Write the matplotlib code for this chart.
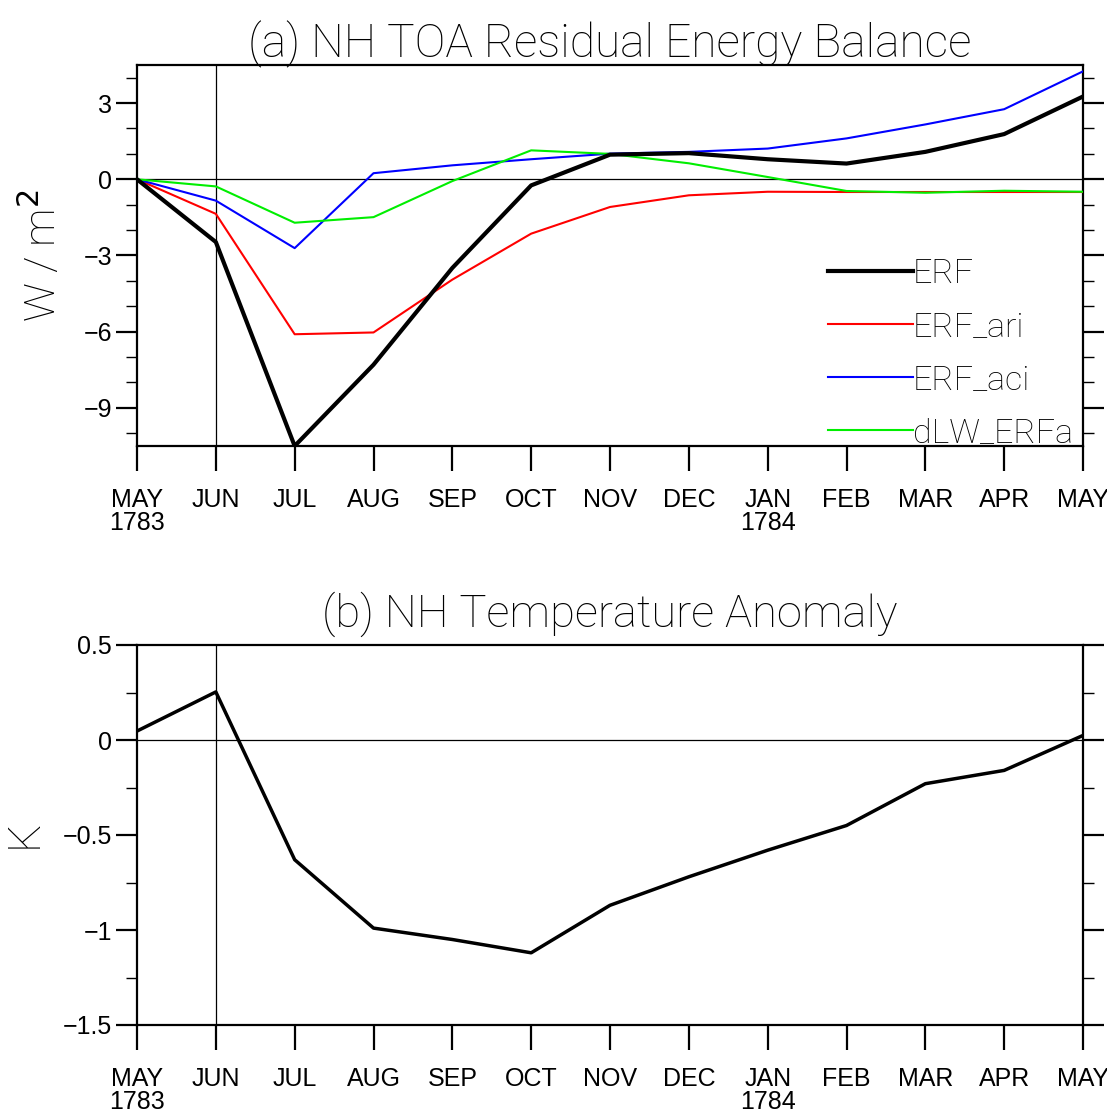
import numpy as np
import matplotlib
matplotlib.use("Agg")
import matplotlib.pyplot as plt
from matplotlib import font_manager
from matplotlib.font_manager import FontProperties
from matplotlib.ticker import MultipleLocator, FixedLocator

# ---------------- data ----------------
months = ["MAY\n1783", "JUN", "JUL", "AUG", "SEP", "OCT", "NOV", "DEC",
          "JAN\n1784", "FEB", "MAR", "APR", "MAY"]
erf = [0.0, -2.47, -10.5, -7.3, -3.49, -0.24, 0.97, 1.03, 0.79, 0.62, 1.08, 1.78, 3.26]
erf_ari = [0.0, -1.36, -6.1, -6.03, -3.95, -2.14, -1.09, -0.63, -0.49, -0.5, -0.5, -0.5, -0.5]
erf_aci = [0.0, -0.84, -2.71, 0.24, 0.55, 0.79, 1.01, 1.08, 1.21, 1.61, 2.16, 2.76, 4.25]
dlw_erfa = [0.0, -0.28, -1.71, -1.49, -0.07, 1.14, 1.0, 0.63, 0.09, -0.46, -0.53, -0.45, -0.49]
temp = [0.047, 0.253, -0.63, -0.99, -1.05, -1.12, -0.87, -0.72, -0.58, -0.45, -0.23, -0.16, 0.024]

top_yticks = [-9, -6, -3, 0, 3]
bot_yticks = [0.5, 0, -0.5, -1, -1.5]
bot_yticklabels = ["0.5", "0", "\u22120.5", "\u22121", "\u22121.5"]

# ---------------- font ----------------
plt.rcParams["font.family"] = ["Liberation Sans", "DejaVu Sans"]
light_fp = None
light_name = "Liberation Sans"
for cand in ["Roboto", "Lato", "Open Sans", "Inter"]:
    try:
        fp = FontProperties(family=cand, weight="light")
        path = font_manager.findfont(fp, fallback_to_default=False)
        if "light" in path.lower() or "thin" in path.lower():
            light_fp = fp
            light_name = cand
            break
    except Exception:
        pass
if light_fp is None:
    light_fp = FontProperties(family="Liberation Sans")
    light_spec = "Liberation Sans"
else:
    light_spec = light_name + ":light"
plt.rcParams["mathtext.fontset"] = "custom"
plt.rcParams["mathtext.rm"] = light_spec
plt.rcParams["mathtext.it"] = light_spec
plt.rcParams["mathtext.bf"] = light_spec

W, H = 1107, 1117
fig = plt.figure(figsize=(W / 100, H / 100), dpi=100)

def ax_rect(l, t, r, b):
    return [l / W, 1 - b / H, (r - l) / W, (b - t) / H]

ax1 = fig.add_axes(ax_rect(137, 65, 1083, 446))
ax2 = fig.add_axes(ax_rect(137, 645, 1083, 1025))

x = np.arange(len(months))
tick_fs = 18

for ax in (ax1, ax2):
    ax.set_xlim(0, 12)
    ax.set_xticks(x)
    ax.set_xticklabels(months, fontsize=tick_fs, linespacing=0.95)
    for s in ax.spines.values():
        s.set_linewidth(1.6)
    ax.tick_params(axis="x", direction="out", length=18, width=1.6, pad=12, top=False)
    ax.tick_params(axis="y", which="major", direction="out", length=15, width=1.6,
                   labelsize=tick_fs, right=True, pad=3)
    ax.tick_params(axis="y", which="minor", direction="out", length=8, width=1.0, right=True)
    ax.axvline(1, color="black", lw=0.9, zorder=1)
    ax.axhline(0, color="black", lw=0.9, zorder=1)

# ---- panel (a) ----
ax1.plot(x, erf_ari, color="#ff0000", lw=1.5, label="ERF_ari", zorder=3)
ax1.plot(x, erf_aci, color="#0000ff", lw=1.5, label="ERF_aci", zorder=3)
ax1.plot(x, dlw_erfa, color="#00ee00", lw=1.5, label="dLW_ERFa", zorder=3)
ax1.plot(x, erf, color="black", lw=3.0, label="ERF", zorder=4)
ax1.set_ylim(-10.5, 4.5)
ax1.yaxis.set_major_locator(FixedLocator(top_yticks))
ax1.yaxis.set_minor_locator(MultipleLocator(1))

h, l = ax1.get_legend_handles_labels()
order = [3, 0, 1, 2]
leg_fp = light_fp.copy()
leg_fp.set_size(24.5)
leg = ax1.legend([h[i] for i in order], [l[i] for i in order], loc="center left",
                 bbox_to_anchor=(0.730, 0.243), frameon=False, prop=leg_fp,
                 handlelength=2.5, handletextpad=0.0, labelspacing=0.62,
                 borderpad=0, borderaxespad=0)

# ---- panel (b) ----
ax2.plot(x, temp, color="black", lw=2.5, zorder=4)
ax2.set_ylim(-1.5, 0.5)
ax2.yaxis.set_major_locator(FixedLocator(bot_yticks))
ax2.set_yticklabels(bot_yticklabels)
ax2.yaxis.set_minor_locator(MultipleLocator(0.25))
ax2.axvline(12, color="black", lw=0.9, zorder=1)

# ---- titles and labels ----
cx = 610 / W
t1 = fig.text(cx, 1 - 57 / H, "(a) NH TOA Residual Energy Balance", ha="center",
              va="baseline", fontproperties=light_fp, fontsize=32)
t2 = fig.text(cx, 1 - 627 / H, "(b) NH Temperature Anomaly", ha="center",
              va="baseline", fontproperties=light_fp, fontsize=32)
# fit title widths to the reference widths
fig.canvas.draw()
r = fig.canvas.get_renderer()
for t, target in ((t1, 724.0), (t2, 576.0)):
    w = t.get_window_extent(r).width
    t.set_fontsize(t.get_fontsize() * target / w)

fig.text(42 / W, 1 - 255 / H, "W / m$^2$", rotation=90, ha="center", va="center",
         fontproperties=light_fp, fontsize=31)
fig.text(24 / W, 1 - 834 / H, "K", rotation=90, ha="center", va="center",
         fontproperties=light_fp, fontsize=32)

fig.savefig("out.png", dpi=100)
